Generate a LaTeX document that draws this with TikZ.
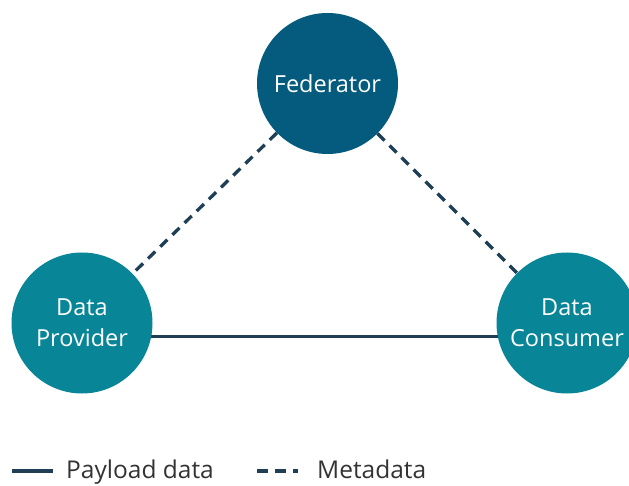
\documentclass[tikz,border=0pt]{standalone}
\usepackage{fontspec}
\setmainfont{Open Sans}
\definecolor{fedblue}{RGB}{4,91,125}
\definecolor{tealc}{RGB}{8,133,150}
\definecolor{linkc}{RGB}{30,63,85}
\definecolor{legtext}{RGB}{51,51,51}
\begin{document}
\begin{tikzpicture}[x=1pt,y=-1pt,
  actor/.style={circle,minimum size=141pt,inner sep=0pt,text=white,align=center,
    font=\fontsize{23.5}{31}\selectfont},
  payload/.style={draw=linkc,line width=3.3pt},
  meta/.style={draw=linkc,line width=3.3pt,dash pattern=on 10pt off 7pt},
  legendtext/.style={text=legtext,font=\fontsize{24.5}{28}\selectfont,inner sep=0pt}]
\useasboundingbox (0,0) rectangle (629,486);
\node[actor,fill=fedblue] (fed) at (327.5,83.5) {Federator};
\node[actor,fill=tealc] (prov) at (82,323) {Data\\Provider};
\node[actor,fill=tealc] (cons) at (567,323) {Data\\Consumer};
\draw[meta] (fed) -- (prov);
\draw[meta] (fed) -- (cons);
\draw[payload] (prov.-11.5) -- (cons.191.5);
% legend
\coordinate (pa) at (12,471);
\coordinate (pb) at (53,471);
\draw[payload] (pa) -- (pb);
\node[legendtext,anchor=base west] (pt) at (66,478) {Payload data};
\coordinate (ma) at (257,471);
\coordinate (mb) at (298,471);
\draw[meta,dash pattern=on 11pt off 7pt] (ma) -- (mb);
\node[legendtext,anchor=base west] (mt) at (317,478) {Metadata};
\end{tikzpicture}
\end{document}
